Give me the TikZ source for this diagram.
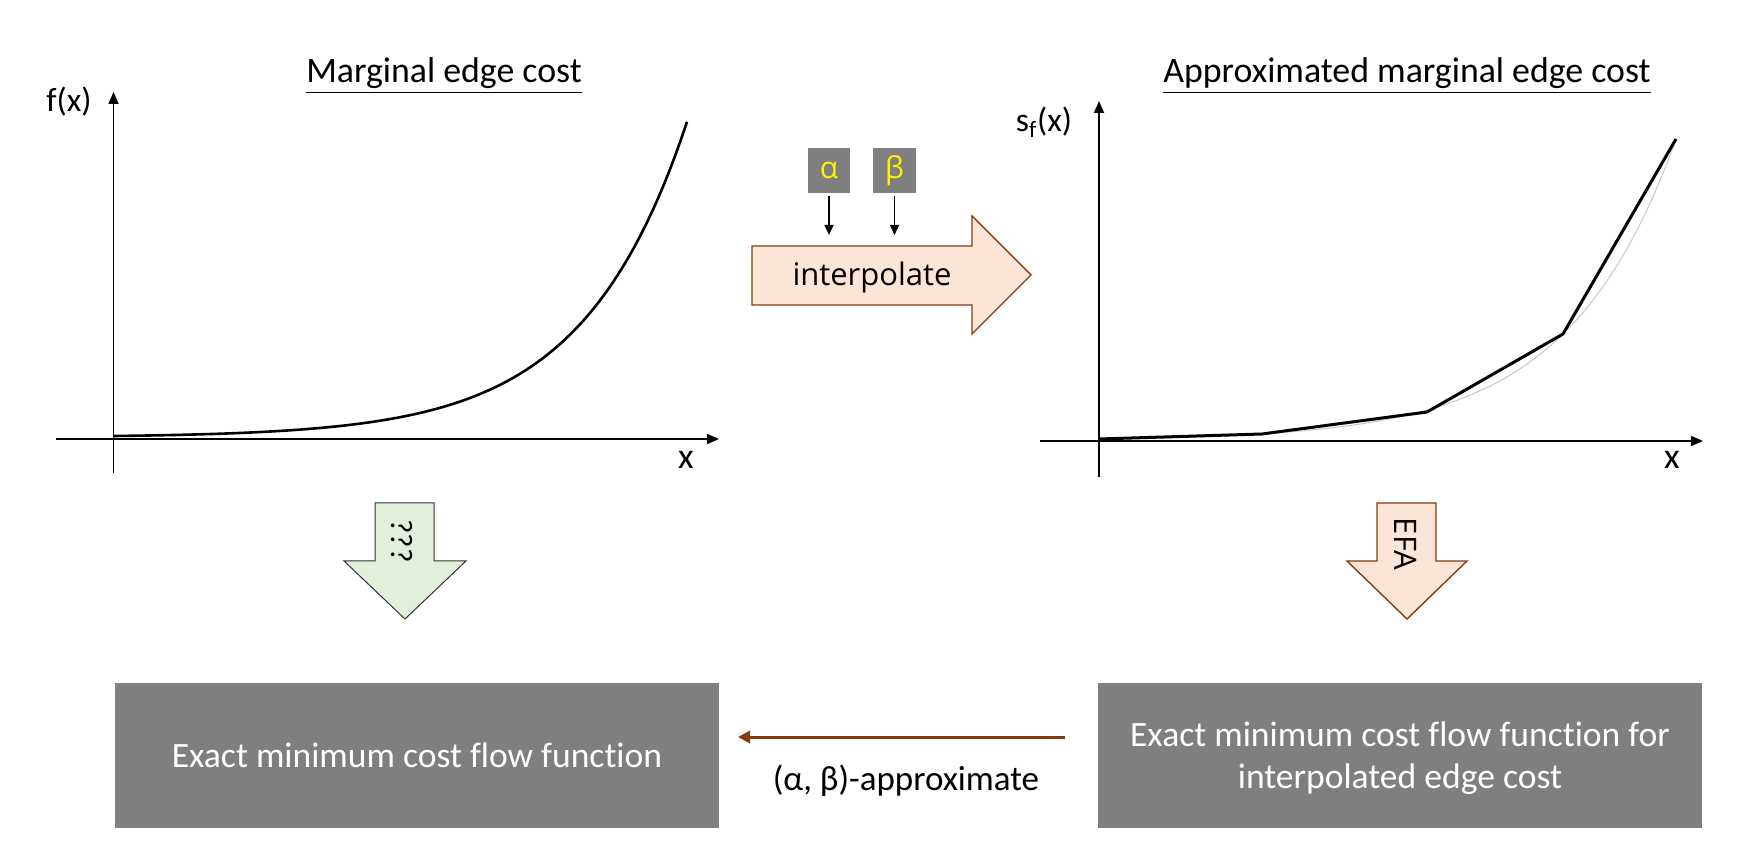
\documentclass[tikz,border=0pt]{standalone}
\usepackage{fontspec}
\setmainfont{Carlito}[Ligatures=NoCommon]
\newfontfamily\tah{Open Sans}
\usetikzlibrary{arrows.meta}
\definecolor{boxgray}{HTML}{7F7F7F}
\definecolor{peach}{HTML}{FBE5D6}
\definecolor{brownline}{HTML}{843C0C}
\definecolor{greenfill}{HTML}{E2F0D9}
\definecolor{lightcurve}{HTML}{C8C8C8}
\newcommand{\myul}[1]{\underline{#1}}
\tikzset{
  axis/.style={line width=0.85pt,-{Triangle[length=6pt,width=5pt]}},
  titletext/.style={anchor=base,font=\fontsize{17.9}{21}\selectfont},
  axlabel/.style={anchor=base,font=\fontsize{16.8}{19}\selectfont},
  xlabel/.style={anchor=base,font=\fontsize{18}{21}\selectfont},
  gbox/.style={fill=boxgray,text=white,minimum width=302pt,minimum height=72.5pt,inner sep=0pt,align=center,font=\fontsize{17.8}{21}\selectfont},
  parbox/.style={fill=boxgray,text=yellow,inner sep=0pt,minimum height=22.5pt,font=\tah\fontsize{15}{18}\selectfont},
  smallarrow/.style={line width=0.7pt,-{Triangle[length=5pt,width=4.5pt]}},
  bigarrow/.style={fill=peach,draw=brownline,line width=0.7pt,line join=miter},
  greenarrow/.style={fill=greenfill,draw=black!80,line width=0.5pt,line join=miter},
  brownarrow/.style={draw=brownline,line width=1.5pt,-{Triangle[length=6pt,width=6pt]}},
}
\begin{document}
\begin{tikzpicture}[x=0.5pt,y=-0.5pt]
\useasboundingbox (0,0) rectangle (1762,865);

% ---- left chart ----
\node[titletext] (t1) at (444,83) {\myul{Marginal edge cost}};
\coordinate (lyb) at (113.5,473);
\coordinate (lyt) at (113.5,92);
\coordinate (lxl) at (56,439);
\coordinate (lxr) at (719,439);
\draw[axis] (lyb) -- (lyt);
\draw[axis] (lxl) -- (lxr);
\node[axlabel] (lfx) at (69,112) {f(x)};
\node[xlabel] (lx) at (686,469) {x};
\draw[line width=1.3pt] plot[domain=0:573,samples=100] ({114+\x},{436-1.29*(exp(0.0096*\x)-1)});

% ---- right chart ----
\node[titletext] (t2) at (1407,83) {\myul{Approximated marginal edge cost}};
\coordinate (ryb) at (1099,477);
\coordinate (ryt) at (1099,101);
\coordinate (rxl) at (1040,441);
\coordinate (rxr) at (1703,441);
\draw[axis] (ryb) -- (ryt);
\draw[axis] (rxl) -- (rxr);
\node[axlabel] (rsf) at (1044,132) {s\textsubscript{f}(x)};
\node[xlabel] (rx) at (1672,469) {x};
\draw[lightcurve,line width=0.5pt] plot[domain=0:577,samples=100] ({1099+\x},{439-1.49*(exp(0.0092*\x)-1)});
\draw[line width=1.5pt,line join=round] (1099,439) -- (1262,434) -- (1427,412) -- (1563,334) -- (1676,139);

% ---- interpolate arrow ----
\draw[bigarrow] (752,246) -- (972,246) -- (972,216) -- (1031,275) -- (972,334) -- (972,305) -- (752,305) -- cycle;
\node[font=\tah\fontsize{15.5}{18}\selectfont] (interp) at (872,277) {interpolate};
\node[parbox,minimum width=21pt] (alpha) at (829,170.5) {α};
\node[parbox,minimum width=21.5pt] (beta) at (894.5,170.5) {β};
\coordinate (aend) at (829,235);
\coordinate (bend) at (894.5,235);
\draw[smallarrow,shorten <=1.5pt] (alpha.south) -- (aend);
\draw[smallarrow,shorten <=1.5pt] (beta.south) -- (bend);

% ---- ??? arrow ----
\draw[greenarrow] (375,503) -- (434,503) -- (434,561) -- (466,561) -- (405,619) -- (344,561) -- (375,561) -- cycle;
\node[rotate=-90,font=\fontsize{15.5}{18}\selectfont] (qqq) at (402,541) {???};

% ---- EFA arrow ----
\draw[bigarrow] (1377,503) -- (1436,503) -- (1436,561) -- (1467,561) -- (1407,619) -- (1347,561) -- (1377,561) -- cycle;
\node[rotate=-90,font=\tah\fontsize{15.5}{18}\selectfont] (efa) at (1406,544) {EFA};

% ---- bottom boxes ----
\node[gbox] (lbox) at (417,755.5) {Exact minimum cost flow function};
\node[gbox,text depth=0pt] (rbox) at (1400,755.5) {\raisebox{0pt}{}Exact minimum cost flow function for\\interpolated edge cost};
\coordinate (bs) at (1065,737);
\coordinate (be) at (738,737);
\draw[brownarrow] (bs) -- (be);
\node[font=\fontsize{17.5}{21}\selectfont] (approx) at (906,781) {(α, β)-approximate};
\end{tikzpicture}
\end{document}
